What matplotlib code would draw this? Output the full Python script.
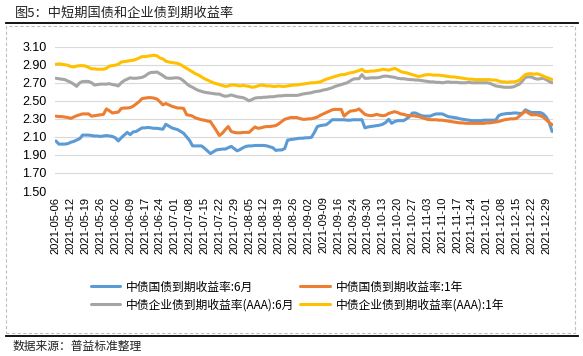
import matplotlib
matplotlib.use("Agg")
import matplotlib.pyplot as plt
from matplotlib.lines import Line2D
from matplotlib.patches import Rectangle

plt.rcParams['font.family'] = ['Noto Sans CJK SC', 'DejaVu Sans']

# weekly tick labels (every 5th trading day)
tick_labels = ['2021-05-06', '2021-05-12', '2021-05-19', '2021-05-26', '2021-06-02', '2021-06-09',
               '2021-06-17', '2021-06-24', '2021-07-01', '2021-07-08', '2021-07-15', '2021-07-22',
               '2021-07-29', '2021-08-05', '2021-08-12', '2021-08-19', '2021-08-26', '2021-09-02',
               '2021-09-09', '2021-09-16', '2021-09-24', '2021-09-30', '2021-10-13', '2021-10-20',
               '2021-10-27', '2021-11-03', '2021-11-10', '2021-11-17', '2021-11-24', '2021-12-01',
               '2021-12-08', '2021-12-15', '2021-12-22', '2021-12-29']

# 中债国债到期收益率:6月
gov_6m = [2.055, 2.02, 2.02, 2.02, 2.025, 2.04, 2.05, 2.065, 2.08, 2.12,
          2.12, 2.12, 2.115, 2.11, 2.11, 2.105, 2.11, 2.115, 2.11, 2.105,
          2.09, 2.055, 2.09, 2.12, 2.15, 2.125, 2.155, 2.16, 2.18, 2.20,
          2.20, 2.205, 2.20, 2.195, 2.195, 2.19, 2.185, 2.24, 2.22, 2.20,
          2.19, 2.18, 2.16, 2.14, 2.10, 2.06, 2.00, 2.00, 2.00, 2.00,
          1.975, 1.945, 1.915, 1.935, 1.955, 1.96, 1.965, 1.965, 1.98, 1.995,
          1.97, 1.945, 1.96, 1.98, 1.995, 2.00, 2.00, 2.005, 2.005, 2.005,
          2.005, 2.00, 1.99, 1.98, 1.95, 1.955, 1.955, 1.97, 2.065, 2.07,
          2.075, 2.08, 2.085, 2.085, 2.09, 2.09, 2.095, 2.15, 2.215, 2.225,
          2.23, 2.235, 2.26, 2.29, 2.29, 2.29, 2.29, 2.29, 2.285, 2.285,
          2.29, 2.29, 2.29, 2.29, 2.20, 2.21, 2.215, 2.22, 2.225, 2.23,
          2.24, 2.26, 2.295, 2.25, 2.27, 2.28, 2.28, 2.28, 2.30, 2.325,
          2.365, 2.365, 2.35, 2.335, 2.33, 2.33, 2.33, 2.345, 2.355, 2.355,
          2.355, 2.34, 2.325, 2.32, 2.315, 2.31, 2.30, 2.295, 2.29, 2.285,
          2.28, 2.28, 2.28, 2.28, 2.285, 2.285, 2.285, 2.285, 2.285, 2.335,
          2.35, 2.355, 2.36, 2.36, 2.365, 2.365, 2.36, 2.36, 2.40, 2.385,
          2.37, 2.37, 2.37, 2.37, 2.355, 2.32, 2.26, 2.16]

# 中债国债到期收益率:1年
gov_1y = [2.33, 2.325, 2.325, 2.32, 2.315, 2.305, 2.32, 2.335, 2.345, 2.355,
          2.355, 2.355, 2.33, 2.335, 2.34, 2.345, 2.35, 2.41, 2.39, 2.365,
          2.37, 2.375, 2.415, 2.42, 2.42, 2.425, 2.44, 2.465, 2.49, 2.525,
          2.53, 2.535, 2.535, 2.53, 2.52, 2.49, 2.455, 2.47, 2.455, 2.44,
          2.43, 2.42, 2.42, 2.415, 2.345, 2.34, 2.33, 2.31, 2.30, 2.29,
          2.285, 2.275, 2.27, 2.22, 2.17, 2.115, 2.14, 2.18, 2.215, 2.16,
          2.15, 2.145, 2.145, 2.15, 2.15, 2.15, 2.18, 2.21, 2.195, 2.20,
          2.21, 2.215, 2.215, 2.22, 2.225, 2.245, 2.27, 2.295, 2.305, 2.315,
          2.315, 2.315, 2.305, 2.295, 2.295, 2.30, 2.30, 2.31, 2.32, 2.34,
          2.355, 2.37, 2.385, 2.40, 2.405, 2.405, 2.405, 2.33, 2.36, 2.385,
          2.39, 2.395, 2.41, 2.38, 2.35, 2.34, 2.335, 2.34, 2.35, 2.34,
          2.335, 2.34, 2.36, 2.37, 2.38, 2.37, 2.355, 2.35, 2.34, 2.335,
          2.335, 2.33, 2.325, 2.315, 2.305, 2.295, 2.29, 2.29, 2.29, 2.285,
          2.285, 2.28, 2.275, 2.27, 2.265, 2.26, 2.255, 2.255, 2.25, 2.25,
          2.25, 2.25, 2.25, 2.25, 2.25, 2.255, 2.255, 2.26, 2.265, 2.27,
          2.28, 2.29, 2.295, 2.30, 2.30, 2.305, 2.33, 2.36, 2.385, 2.365,
          2.345, 2.345, 2.345, 2.335, 2.32, 2.29, 2.26, 2.235]

# 中债企业债到期收益率(AAA):6月
corp_6m = [2.75, 2.745, 2.74, 2.735, 2.72, 2.705, 2.685, 2.66, 2.70, 2.715,
           2.715, 2.715, 2.70, 2.675, 2.68, 2.685, 2.685, 2.685, 2.69, 2.68,
           2.675, 2.665, 2.70, 2.725, 2.74, 2.755, 2.75, 2.75, 2.755, 2.76,
           2.775, 2.80, 2.815, 2.815, 2.82, 2.80, 2.78, 2.755, 2.75, 2.75,
           2.755, 2.755, 2.745, 2.72, 2.69, 2.665, 2.65, 2.63, 2.615, 2.605,
           2.595, 2.59, 2.585, 2.58, 2.575, 2.575, 2.56, 2.55, 2.555, 2.565,
           2.555, 2.545, 2.54, 2.535, 2.52, 2.50, 2.515, 2.53, 2.535, 2.535,
           2.54, 2.54, 2.545, 2.545, 2.55, 2.555, 2.555, 2.56, 2.56, 2.56,
           2.56, 2.56, 2.565, 2.575, 2.58, 2.585, 2.59, 2.60, 2.605, 2.61,
           2.62, 2.625, 2.635, 2.645, 2.66, 2.67, 2.68, 2.69, 2.70, 2.72,
           2.74, 2.745, 2.745, 2.79, 2.75, 2.75, 2.755, 2.755, 2.755, 2.76,
           2.77, 2.775, 2.77, 2.765, 2.76, 2.75, 2.745, 2.745, 2.74, 2.735,
           2.735, 2.73, 2.73, 2.725, 2.72, 2.715, 2.71, 2.71, 2.705, 2.705,
           2.70, 2.705, 2.71, 2.705, 2.705, 2.705, 2.70, 2.70, 2.70, 2.705,
           2.70, 2.70, 2.70, 2.70, 2.70, 2.70, 2.695, 2.68, 2.665, 2.66,
           2.655, 2.65, 2.65, 2.65, 2.655, 2.67, 2.685, 2.72, 2.76, 2.765,
           2.765, 2.75, 2.74, 2.745, 2.75, 2.735, 2.715, 2.70]

# 中债企业债到期收益率(AAA):1年
corp_1y = [2.905, 2.91, 2.905, 2.90, 2.895, 2.88, 2.875, 2.885, 2.89, 2.89,
           2.885, 2.87, 2.855, 2.855, 2.85, 2.85, 2.85, 2.86, 2.885, 2.89,
           2.895, 2.905, 2.93, 2.935, 2.94, 2.945, 2.95, 2.96, 2.975, 2.99,
           2.99, 2.995, 3.00, 3.005, 3.00, 2.975, 2.965, 2.94, 2.93, 2.925,
           2.92, 2.915, 2.90, 2.88, 2.86, 2.84, 2.82, 2.80, 2.785, 2.765,
           2.745, 2.73, 2.715, 2.70, 2.69, 2.68, 2.67, 2.66, 2.665, 2.675,
           2.675, 2.67, 2.665, 2.67, 2.665, 2.66, 2.65, 2.655, 2.665, 2.675,
           2.67, 2.665, 2.665, 2.66, 2.66, 2.665, 2.66, 2.66, 2.665, 2.67,
           2.675, 2.675, 2.68, 2.685, 2.69, 2.695, 2.70, 2.70, 2.705, 2.71,
           2.725, 2.74, 2.75, 2.76, 2.77, 2.78, 2.79, 2.79, 2.80, 2.81,
           2.815, 2.825, 2.835, 2.85, 2.825, 2.825, 2.83, 2.83, 2.835, 2.84,
           2.85, 2.845, 2.84, 2.85, 2.86, 2.845, 2.825, 2.815, 2.81, 2.80,
           2.79, 2.78, 2.77, 2.775, 2.785, 2.79, 2.79, 2.785, 2.785, 2.785,
           2.78, 2.775, 2.77, 2.765, 2.765, 2.76, 2.755, 2.75, 2.745, 2.74,
           2.74, 2.735, 2.735, 2.735, 2.735, 2.735, 2.735, 2.73, 2.73, 2.72,
           2.71, 2.71, 2.705, 2.71, 2.71, 2.715, 2.73, 2.76, 2.79, 2.80,
           2.80, 2.795, 2.80, 2.79, 2.775, 2.76, 2.75, 2.735]

series = [
    (gov_6m, '中债国债到期收益率:6月', '#5B9BD5'),
    (gov_1y, '中债国债到期收益率:1年', '#ED7D31'),
    (corp_6m, '中债企业债到期收益率(AAA):6月', '#A5A5A5'),
    (corp_1y, '中债企业债到期收益率(AAA):1年', '#FFC000'),
]

W, H = 583, 356
fig = plt.figure(figsize=(W / 100, H / 100), dpi=100)
ax = fig.add_axes([55 / W, 1 - 191 / H, (553 - 55) / W, (191 - 46.7) / H])

x = list(range(len(gov_6m)))
lines = []
for vals, name, color in series:
    ln, = ax.plot(x, vals, color=color, lw=2.2, label=name, solid_capstyle='round')
    lines.append(ln)

ax.set_ylim(1.5, 3.1)
ax.set_yticks([1.5 + 0.2 * k for k in range(9)])
ax.set_yticklabels(['%.2f' % (1.5 + 0.2 * k) for k in range(9)], fontsize=9, family='Liberation Sans')
ax.set_xlim(-0.3, len(x) - 0.7)
ax.set_xticks(list(range(0, len(x), 5)))
ax.set_xticklabels(tick_labels, rotation=90, fontsize=8, family='Liberation Sans')
ax.tick_params(length=0)
ax.tick_params(axis='y', pad=6)
ax.tick_params(axis='x', pad=4)
ax.grid(axis='y', color='#D9D9D9', lw=0.8)
ax.set_axisbelow(True)
for s in ax.spines.values():
    s.set_visible(False)

# legend filled row by row: blue, orange / gray, yellow
order = [0, 2, 1, 3]
fig.legend([lines[k] for k in order], [series[k][1] for k in order],
           loc='upper left', bbox_to_anchor=(80 / W, 1 - 270 / H), ncol=2, frameon=False,
           fontsize=8.5, handlelength=2.5, handletextpad=0.5, columnspacing=0.5,
           labelspacing=0.4)

# frame and captions
fig.text(15 / W, 1 - 13 / H, '图5：中短期国债和企业债到期收益率', fontsize=9.5, va='center', color='#222222')
fig.add_artist(Line2D([6 / W, 578 / W], [1 - 23 / H] * 2, color='black', lw=1.3))
fig.add_artist(Rectangle((6 / W, 1 - 333 / H), (575 - 6) / W, (333 - 26) / H, fill=False,
                         ls=(0, (3, 2)), ec='#BFBFBF', lw=0.8))
fig.add_artist(Line2D([6 / W, 578 / W], [1 - 336 / H] * 2, color='black', lw=1.3))
fig.text(13 / W, 1 - 346 / H, '数据来源：普益标准整理', fontsize=8.5, va='center', color='#222222')

fig.savefig('out.png', dpi=100)
